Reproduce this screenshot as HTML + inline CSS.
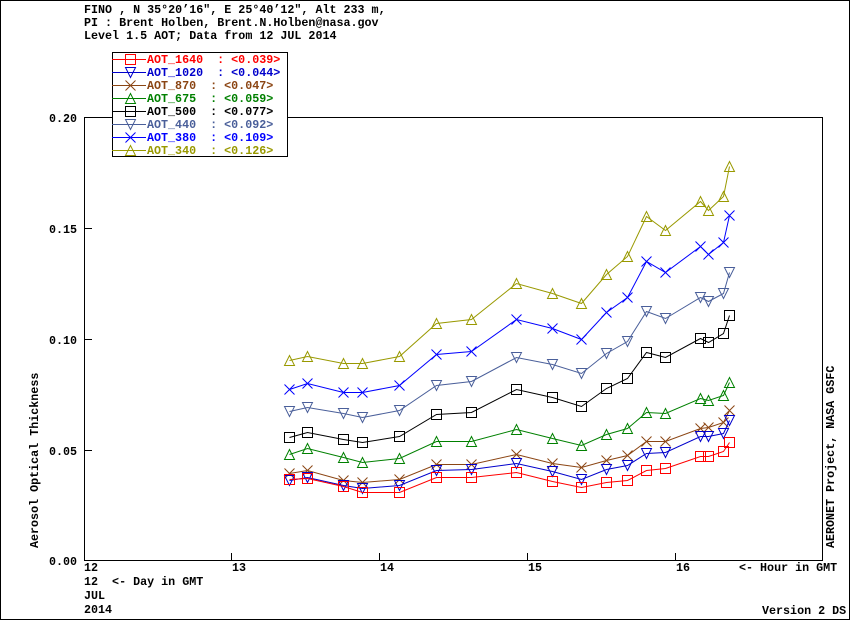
<!DOCTYPE html>
<html><head><meta charset="utf-8"><style>
html,body{margin:0;padding:0;background:#fff}
svg{display:block}
text{font-family:"Liberation Mono","DejaVu Sans Mono",monospace;font-weight:bold;font-size:11.7px;white-space:pre}
</style></head><body>
<svg id="s" width="850" height="620" xmlns="http://www.w3.org/2000/svg" xml:space="preserve">
<rect x="0.5" y="0.5" width="849" height="619" fill="#fff" stroke="#000"/>
<text x="84" y="13">FINO , N 35°20’16", E 25°40’12", Alt 233 m,</text>
<text x="84" y="26">PI : Brent Holben, Brent.N.Holben@nasa.gov</text>
<text x="84" y="39">Level 1.5 AOT; Data from 12 JUL 2014</text>
<rect x="84.5" y="117.5" width="738" height="443" fill="none" stroke="#000"/>
<g text-anchor="end">
<text x="77" y="122">0.20</text><text x="77" y="233">0.15</text><text x="77" y="344">0.10</text><text x="77" y="455">0.05</text><text x="77" y="565">0.00</text>
</g>
<g stroke="#000"><line x1="85" y1="228.5" x2="92" y2="228.5"/><line x1="85" y1="339.5" x2="92" y2="339.5"/><line x1="85" y1="450.5" x2="92" y2="450.5"/>
<line x1="231.5" y1="560" x2="231.5" y2="553"/><line x1="379.5" y1="560" x2="379.5" y2="553"/><line x1="527.5" y1="560" x2="527.5" y2="553"/><line x1="675.5" y1="560" x2="675.5" y2="553"/></g>
<text x="84" y="571">12</text><text x="232" y="571">13</text><text x="380" y="571">14</text><text x="528" y="571">15</text><text x="676" y="571">16</text>
<text x="739" y="571">&lt;- Hour in GMT</text>
<text x="84" y="585">12  &lt;- Day in GMT</text>
<text x="84" y="599">JUL</text>
<text x="84" y="613">2014</text>
<text x="762" y="614">Version 2 DS</text>
<text transform="translate(38,548) rotate(-90)">Aerosol Optical Thickness</text>
<text transform="translate(834,548) rotate(-90)">AERONET Project, NASA GSFC</text>
<g id="data"></g>
<rect x="112.5" y="52.5" width="175" height="104" fill="#fff" stroke="#000"/>
<g id="leg"></g>
</svg>
<script>
var xs=[289,307,343,362,399,436,471,516,552,581,606,627,646,665,700,708,723,729];
var S=[
["AOT_1640","0.039","#ff0000","sq",[479,478,486,492,492,477,477,472,481,487,482,480,470,468,456,456,451,442]],
["AOT_1020","0.044","#0000cc","dt",[480,477,485,488,485,470,469,463,471,479,469,465,453,452,436,436,433,420]],
["AOT_870","0.047","#8b4513","x",[473,470,480,482,479,464,464,454,463,467,460,455,441,441,428,427,422,410]],
["AOT_675","0.059","#008000","ut",[454,448,457,462,458,441,441,429,438,445,434,428,412,413,398,400,395,382]],
["AOT_500","0.077","#000000","sq",[437,432,439,442,436,414,412,389,397,406,388,378,352,357,338,342,333,315]],
["AOT_440","0.092","#4a5f9a","dt",[411,407,413,417,410,385,381,357,364,373,353,341,311,318,297,301,293,272]],
["AOT_380","0.109","#0000ff","x",[389,383,392,392,385,354,351,319,328,339,312,297,261,272,246,254,242,215]],
["AOT_340","0.126","#999900","ut",[360,356,363,363,356,323,319,283,293,303,274,256,216,230,201,210,196,166]]];
function mk(t,x,y,c){var r=5;x+=0.5;y+=0.5;
 if(t=="sq")return '<rect x="'+(x-r)+'" y="'+(y-r)+'" width="10" height="10" fill="none" stroke="'+c+'"/>';
 if(t=="dt")return '<polygon points="'+(x-r)+','+(y-r)+' '+(x+r)+','+(y-r)+' '+x+','+(y+r)+'" fill="none" stroke="'+c+'"/>';
 if(t=="ut")return '<polygon points="'+(x-r)+','+(y+r)+' '+(x+r)+','+(y+r)+' '+x+','+(y-r)+'" fill="none" stroke="'+c+'"/>';
 return '<path d="M'+(x-r)+' '+(y-r)+'L'+(x+r)+' '+(y+r)+'M'+(x+r)+' '+(y-r)+'L'+(x-r)+' '+(y+r)+'" stroke="'+c+'"/>';}
var h='',L='';
for(var i=S.length-1;i>=0;i--){var s=S[i],p='';
 for(var j=0;j<xs.length;j++)p+=(xs[j]+0.5)+','+(s[4][j]+0.5)+' ';
 h+='<polyline points="'+p+'" fill="none" stroke="'+s[2]+'" stroke-width="1"/>';
 for(var j=0;j<xs.length;j++)h+=mk(s[3],xs[j],s[4][j],s[2]);}
for(var i=0;i<S.length;i++){var s=S[i],y=59+13*i;
 L+='<line x1="112" y1="'+(y+0.5)+'" x2="146" y2="'+(y+0.5)+'" stroke="'+s[2]+'"/>'+mk(s[3],130,y,s[2]);
 L+='<text x="147" y="'+(y+4)+'" fill="'+s[2]+'">'+s[0]+'  : &lt;'+s[1]+'&gt;</text>';}
document.getElementById('data').innerHTML=h;
document.getElementById('leg').innerHTML=L;
</script>
</body></html>
